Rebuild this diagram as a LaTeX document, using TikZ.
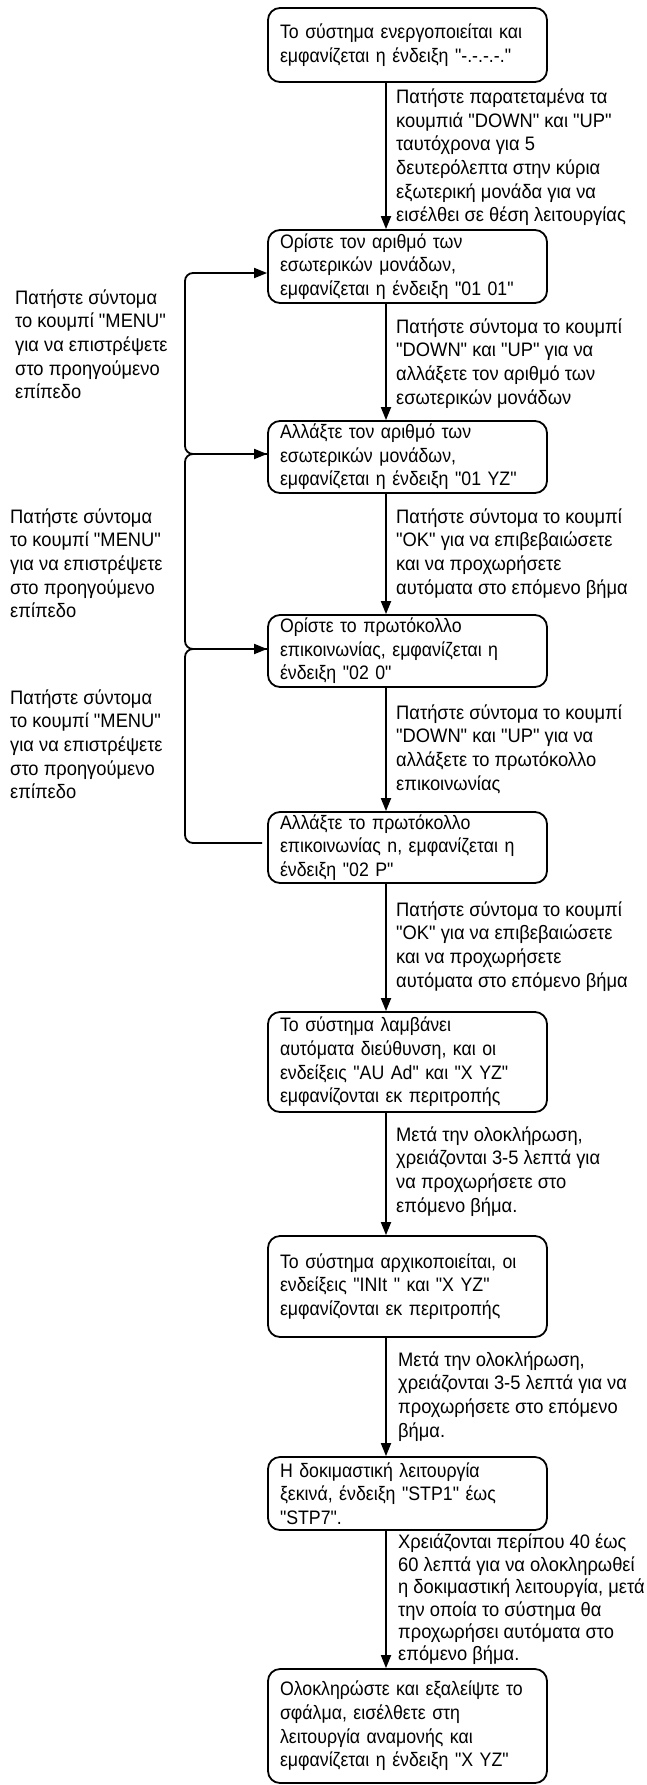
\documentclass[tikz,border=0pt]{standalone}
\usepackage{fontspec}
\newfontfamily\libsans[FakeStretch=0.91]{Liberation Sans}
\newfontfamily\liblbl[FakeStretch=0.94]{Liberation Sans}
\usetikzlibrary{arrows.meta}
\newcommand\ffnt{\libsans\fontsize{19.5}{23.6}\selectfont}
\newcommand\lfnt{\liblbl\fontsize{19.5}{23.6}\selectfont}
\tikzset{
  box/.style={draw, line width=1.8pt, rounded corners=12pt, text width=255pt,
    inner xsep=12pt, inner ysep=0pt, align=left, font=\ffnt},
  lbl/.style={anchor=north west, inner sep=0pt, align=left, font=\lfnt},
  arr/.style={line width=1.8pt, -{Triangle[length=13pt,width=10pt]}},
  fb/.style={arr, rounded corners=8pt}
}
\begin{document}
\begin{tikzpicture}[x=1pt,y=-1pt]
\useasboundingbox (0,0) rectangle (647,1785);
\coordinate (ax) at (386,0);
\coordinate (fx) at (185,0);

\node[box, minimum height=74pt] (b1) at (407.5,45) {Το σύστημα ενεργοποιείται και\\εμφανίζεται η ένδειξη "-.-.-.-."};
\node[box, minimum height=73pt] (b2) at (407.5,266.5) {Ορίστε τον αριθμό των\\εσωτερικών μονάδων,\\εμφανίζεται η ένδειξη "01 01"};
\node[box, minimum height=72pt] (b3) at (407.5,457) {Αλλάξτε τον αριθμό των\\εσωτερικών μονάδων,\\εμφανίζεται η ένδειξη "01 YZ"};
\node[box, minimum height=72pt] (b4) at (407.5,651) {Ορίστε το πρωτόκολλο\\επικοινωνίας, εμφανίζεται η\\ένδειξη "02 0"};
\node[box, minimum height=71pt] (b5) at (407.5,847.5) {Αλλάξτε το πρωτόκολλο\\επικοινωνίας n, εμφανίζεται η\\ένδειξη "02 P"};
\node[box, minimum height=100pt] (b6) at (407.5,1062) {Το σύστημα λαμβάνει\\αυτόματα διεύθυνση, και οι\\ενδείξεις "AU Ad" και "X YZ"\\εμφανίζονται εκ περιτροπής};
\node[box, minimum height=101pt] (b7) at (407.5,1286.5) {Το σύστημα αρχικοποιείται, οι\\ενδείξεις "INIt " και "X YZ"\\εμφανίζονται εκ περιτροπής};
\node[box, minimum height=73pt] (b8) at (407.5,1493.5) {Η δοκιμαστική λειτουργία\\ξεκινά, ένδειξη "STP1" έως\\"STP7".};
\node[box, minimum height=114pt] (b9) at (407.5,1726) {Ολοκληρώστε και εξαλείψτε το\\σφάλμα, εισέλθετε στη\\λειτουργία αναμονής και\\εμφανίζεται η ένδειξη "X YZ"};

\node[lbl] (r1) at (396,87) {\strut Πατήστε παρατεταμένα τα\\κουμπιά "DOWN" και "UP"\\ταυτόχρονα για 5\\δευτερόλεπτα στην κύρια\\εξωτερική μονάδα για να\\εισέλθει σε θέση λειτουργίας};
\node[lbl] (r2) at (396,316.5) {\strut Πατήστε σύντομα το κουμπί\\"DOWN" και "UP" για να\\αλλάξετε τον αριθμό των\\εσωτερικών μονάδων};
\node[lbl] (r3) at (396,506.5) {\strut Πατήστε σύντομα το κουμπί\\"OK" για να επιβεβαιώσετε\\και να προχωρήσετε\\αυτόματα στο επόμενο βήμα};
\node[lbl] (r4) at (396,702.5) {\strut Πατήστε σύντομα το κουμπί\\"DOWN" και "UP" για να\\αλλάξετε το πρωτόκολλο\\επικοινωνίας};
\node[lbl] (r5) at (396,899.5) {\strut Πατήστε σύντομα το κουμπί\\"OK" για να επιβεβαιώσετε\\και να προχωρήσετε\\αυτόματα στο επόμενο βήμα};
\node[lbl] (r6) at (396,1124.5) {\strut Μετά την ολοκλήρωση,\\χρειάζονται 3-5 λεπτά για\\να προχωρήσετε στο\\επόμενο βήμα.};
\node[lbl] (r7) at (398,1349.5) {\strut Μετά την ολοκλήρωση,\\χρειάζονται 3-5 λεπτά για να\\προχωρήσετε στο επόμενο\\βήμα.};
\node[lbl, font=\liblbl\fontsize{19.5}{22.4}\selectfont] (r8) at (398,1533) {\strut Χρειάζονται περίπου 40 έως\\60 λεπτά για να ολοκληρωθεί\\η δοκιμαστική λειτουργία, μετά\\την οποία το σύστημα θα\\προχωρήσει αυτόματα στο\\επόμενο βήμα.};

\node[lbl] (l1) at (15,287.5) {\strut Πατήστε σύντομα\\το κουμπί "MENU"\\για να επιστρέψετε\\στο προηγούμενο\\επίπεδο};
\node[lbl] (l2) at (10,506.5) {\strut Πατήστε σύντομα\\το κουμπί "MENU"\\για να επιστρέψετε\\στο προηγούμενο\\επίπεδο};
\node[lbl] (l3) at (10,687.5) {\strut Πατήστε σύντομα\\το κουμπί "MENU"\\για να επιστρέψετε\\στο προηγούμενο\\επίπεδο};

\draw[arr] (b1.south -| ax) -- (b2.north -| ax);
\draw[arr] (b2.south -| ax) -- (b3.north -| ax);
\draw[arr] (b3.south -| ax) -- (b4.north -| ax);
\draw[arr] (b4.south -| ax) -- (b5.north -| ax);
\draw[arr] (b5.south -| ax) -- (b6.north -| ax);
\draw[arr] (b6.south -| ax) -- (b7.north -| ax);
\draw[arr] (b7.south -| ax) -- (b8.north -| ax);
\draw[arr] (b8.south -| ax) -- (b9.north -| ax);

\coordinate (c5) at ([xshift=-5pt]b5.west);
\draw[fb] (b3.west |- 0,454) -- (fx |- 0,454) -- (fx |- 0,273) -- (b2.west |- 0,273);
\draw[fb] (b4.west |- 0,649) -- (fx |- 0,649) -- (fx |- 0,454) -- (b3.west |- 0,454);
\draw[fb] (c5 |- 0,843) -- (fx |- 0,843) -- (fx |- 0,649) -- (b4.west |- 0,649);
\end{tikzpicture}
\end{document}
